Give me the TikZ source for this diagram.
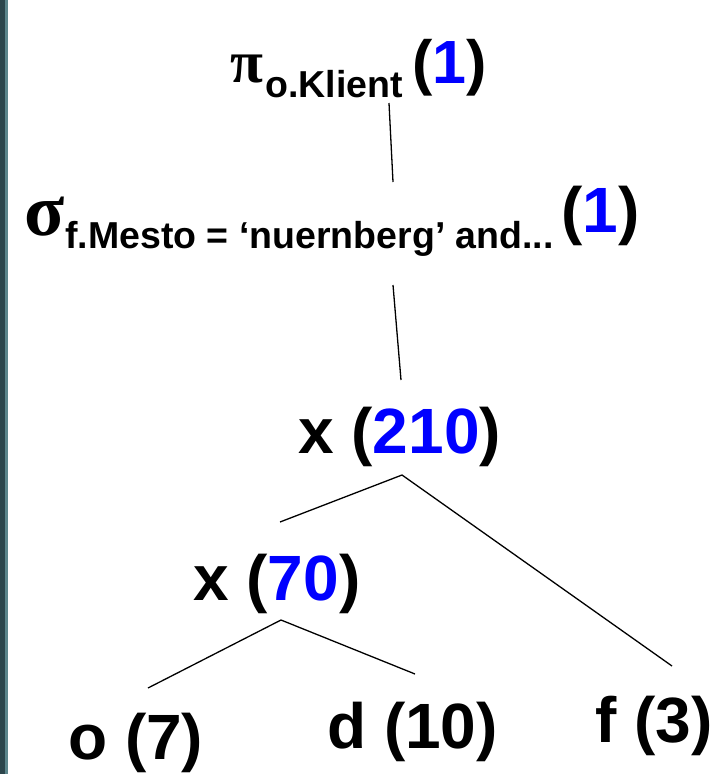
\documentclass[tikz,border=0pt]{standalone}
\usepackage{fontspec}
\setmainfont{Liberation Sans}
\newfontfamily\greekfont{Liberation Serif}
\definecolor{cntblue}{RGB}{0,0,255}
\definecolor{bardark}{RGB}{44,70,76}
\definecolor{barlight}{RGB}{92,134,140}
\newcommand{\fsz}[1]{\fontsize{#1}{#1}\selectfont}
\newcommand{\cnt}[1]{\textcolor{cntblue}{#1}}

\begin{document}
\begin{tikzpicture}[x=1pt,y=-1pt,
  txt/.style={anchor=base west,inner sep=0pt,font=\bfseries\fsz{64}},
  sub/.style={anchor=base west,inner sep=0pt,font=\bfseries\fsz{37.5}},
  greek/.style={anchor=base west,inner sep=0pt,font=\greekfont\bfseries\fsz{60}},
  edge/.style={line width=1.3pt}]
  \useasboundingbox (0,0) rectangle (720,774);
  \fill[bardark] (0,0) rectangle (5,774);
  \fill[barlight] (5,0) rectangle (7.5,774);

  \node[greek] (pi) at (230,82) {π};
  \node[sub] (pisub) at (265,97) {o.Klient};
  \node[txt,font=\bfseries\fsz{61}] (pinum) at (412,83) {(\cnt{1})};

  \node[greek,font=\greekfont\bfseries\fsz{74}] (sigma) at (24,235) {σ};
  \node[sub] (sigsub) at (65,248) {f.Mesto = ‘nuernberg’ and...};
  \node[txt] (signum) at (561,232) {(\cnt{1})};

  \node[txt] (x210) at (298,453) {x (\cnt{210})};
  \node[txt] (x70) at (193,600) {x (\cnt{70})};
  \node[txt] (o7) at (68,759) {o (7)};
  \node[txt] (d10) at (327,748) {d (10)};
  \node[txt] (f3) at (595,742) {f (3)};

  \coordinate (pibot) at (389,103);
  \coordinate (sigtop) at (393,182);
  \coordinate (sigbot) at (393,285);
  \coordinate (xtop) at (401,380);
  \coordinate (xapex) at (402,475);
  \coordinate (xleft) at (280,522);
  \coordinate (xright) at (672,666);
  \coordinate (yapex) at (281,620);
  \coordinate (yleft) at (148,688);
  \coordinate (yright) at (415,674);

  \draw[edge] (pibot) -- (sigtop);
  \draw[edge] (sigbot) -- (xtop);
  \draw[edge] (xleft) -- (xapex) -- (xright);
  \draw[edge] (yleft) -- (yapex) -- (yright);
\end{tikzpicture}
\end{document}
